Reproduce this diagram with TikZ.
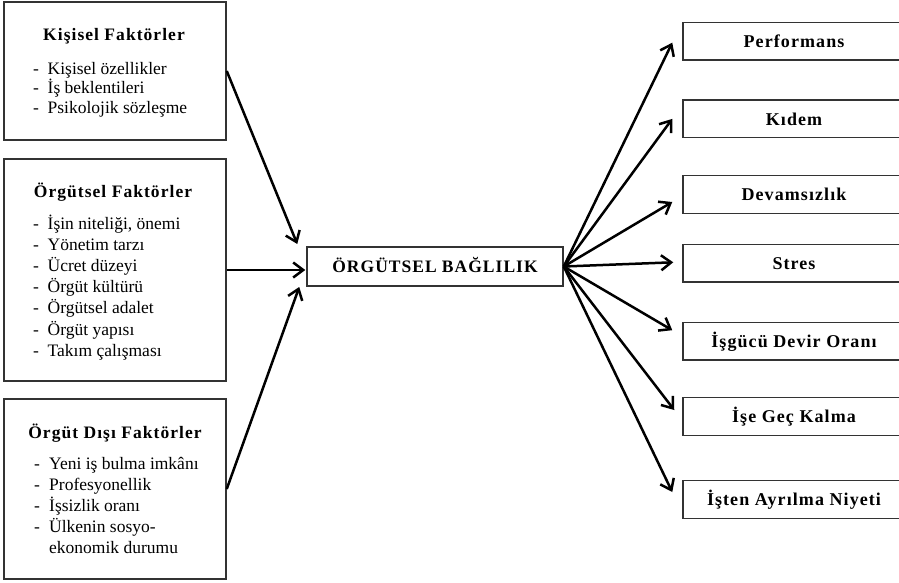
\documentclass[tikz,border=0pt]{standalone}
\usepackage{fontspec}
\setmainfont{Liberation Serif}
\newfontfamily\spacedfont[LetterSpace=6]{Liberation Serif}
\usetikzlibrary{arrows.meta,calc}

\begin{document}
\begin{tikzpicture}[x=1pt,y=-1pt,
  frame/.style={draw=black!80,line width=1.5pt,inner sep=0pt},
  grouptitle/.style={font=\spacedfont\bfseries\fontsize{17.5}{21}\selectfont,anchor=base,inner sep=0pt},
  item/.style={font=\fontsize{17.5}{21}\selectfont,anchor=base west,inner sep=0pt},
  result/.style={frame,minimum width=222pt,minimum height=37.7pt,
    font=\spacedfont\bfseries\fontsize{18}{21}\selectfont,text height=12.5pt,text depth=0pt},
  link/.style={line width=2.5pt,-{Straight Barb[length=10pt,width=15pt]}},
]
\useasboundingbox (0,0) rectangle (899,583);

% factor groups
\node[frame,minimum width=222pt,minimum height=138pt] (kisisel) at (115,71) {};
\node[frame,minimum width=222pt,minimum height=222pt] (orgutsel) at (115,270) {};
\node[frame,minimum width=222pt,minimum height=180pt] (disi) at (115,489) {};

\node[grouptitle] (t1) at (114,41) {Kişisel Faktörler};
\node[grouptitle] (t2) at (113,197) {Örgütsel Faktörler};
\node[grouptitle] (t3) at (115,438.5) {Örgüt Dışı Faktörler};

\foreach \txt [count=\i] in {Kişisel özellikler, İş beklentileri, Psikolojik sözleşme} {
  \node[item] (ad\i) at (33,{74.5+19.5*(\i-1)}) {-};
  \node[item] (a\i) at (47.5,{74.5+19.5*(\i-1)}) {\txt};
}
\foreach \txt [count=\i] in {{İşin niteliği, önemi}, Yönetim tarzı, Ücret düzeyi, Örgüt kültürü,
    Örgütsel adalet, Örgüt yapısı, Takım çalışması} {
  \node[item] (bd\i) at (33,{229+21.2*(\i-1)}) {-};
  \node[item] (b\i) at (47.5,{229+21.2*(\i-1)}) {\txt};
}
\foreach \txt [count=\i] in {Yeni iş bulma imkânı, Profesyonellik, İşsizlik oranı, Ülkenin sosyo-} {
  \node[item] (cd\i) at (34,{469+21*(\i-1)}) {-};
  \node[item] (c\i) at (49,{469+21*(\i-1)}) {\txt};
}
\node[item] (c5) at (49,553) {ekonomik durumu};

% central concept
\node[frame,minimum width=256pt,minimum height=39pt,
  font=\spacedfont\bfseries\fontsize{17.5}{21}\selectfont,text height=12.5pt,text depth=0pt]
  (bag) at (435,266.5) {ÖRGÜTSEL\hspace{5pt}BAĞLILIK};

% outcomes
\node[result] (perf) at (794,41.3) {Performans};
\node[result] (kidem) at (794,118.9) {Kıdem};
\node[result] (devam) at (794,194.5) {Devamsızlık};
\node[result] (stres) at (794,263.3) {Stres};
\node[result] (devir) at (794,341.2) {İşgücü Devir Oranı};
\node[result] (gec) at (794,416.5) {İşe Geç Kalma};
\node[result] (ayril) at (794,499.5) {İşten Ayrılma Niyeti};

% links into the central concept
\draw[link] (kisisel.east) -- ($(bag.west)+(-9,-22.5)$);
\draw[link,shorten >=1pt] (orgutsel.east) -- (orgutsel.east -| bag.west);
\draw[link] (disi.east) -- ($(bag.west)+(-7,20.5)$);

% links to outcomes
\draw[link] (bag.east) -- ($(perf.west)+(-10,1.4)$);
\draw[link] (bag.east) -- ($(kidem.west)+(-10,0)$);
\draw[link] (bag.east) -- ($(devam.west)+(-10,7.5)$);
\draw[link] (bag.east) -- ($(stres.west)+(-9,-1)$);
\draw[link] (bag.east) -- ($(devir.west)+(-10,-11)$);
\draw[link] (bag.east) -- ($(gec.west)+(-8,-6.5)$);
\draw[link] (bag.east) -- ($(ayril.west)+(-10,-7.5)$);
\end{tikzpicture}
\end{document}
